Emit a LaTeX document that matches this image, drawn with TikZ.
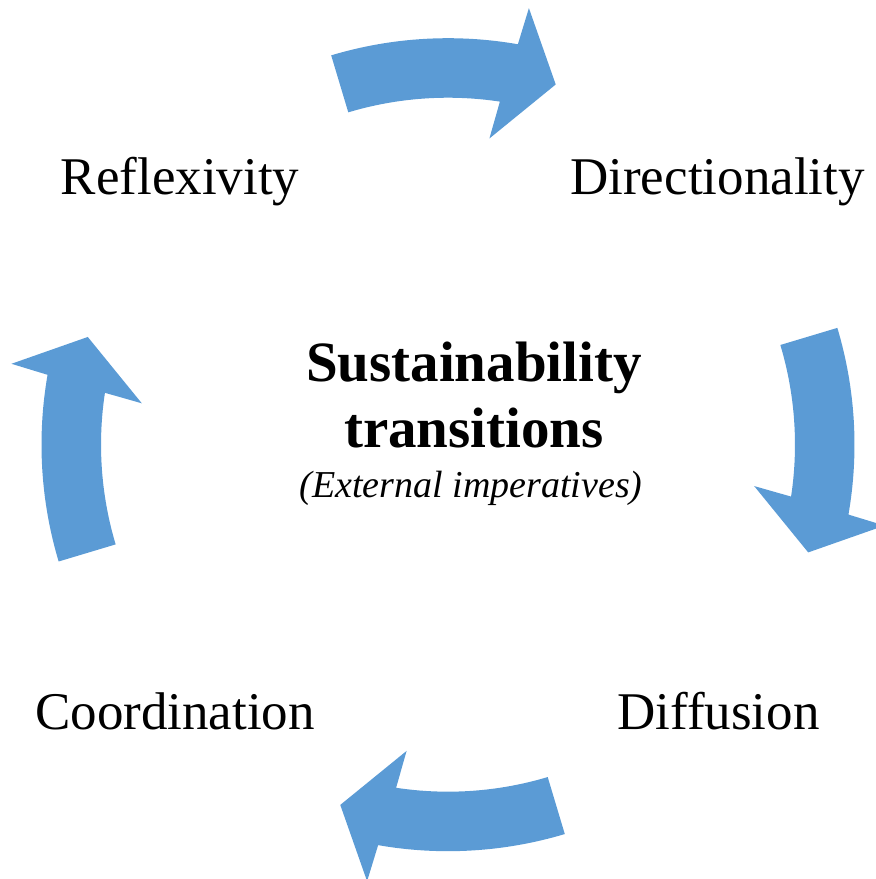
\documentclass[tikz,border=0pt]{standalone}
\usepackage{fontspec}
\setmainfont{Liberation Serif}
\definecolor{cycleblue}{HTML}{5B9BD5}
\begin{document}
\begin{tikzpicture}[x=1pt,y=1pt,
  cyclearrow/.style={fill=cycleblue, draw=none},
  phase/.style={inner sep=0pt, anchor=base, font=\fontsize{53}{60}\selectfont},
  titlebold/.style={inner sep=0pt, anchor=base, font=\fontsize{57}{66}\selectfont\bfseries},
  subtitle/.style={inner sep=0pt, anchor=base, font=\fontsize{38}{44}\selectfont\itshape}]
\useasboundingbox (0,0) rectangle (876,879);
\clip (0,0) rectangle (876,879);
\coordinate (c) at (448,434.3);
\begin{scope}[shift={(c)}]
\foreach \a in {90,0,-90,180} {
  \fill[cyclearrow] ({\a+16.7}:406.5pt)
    arc[start angle={\a+16.7}, end angle={\a-9.9}, radius=406.5pt]
    -- ({\a-10.5}:444pt) -- ({\a-16.65}:376pt) -- ({\a-7.7}:309pt)
    -- ({\a-8.6}:347pt)
    arc[start angle={\a-8.6}, end angle={\a+16.7}, radius=347pt]
    -- cycle;
}
\end{scope}
\node[phase] (reflex) at (180,684.7) {Reflexivity};
\node[phase] (direct) at (717.5,684.7) {Directionality};
\node[phase] (coord) at (175,149) {Coordination};
\node[phase] (diff) at (718.5,149) {Diffusion};
\node[titlebold] (sust) at (474,497) {Sustainability};
\node[titlebold] (trans) at (474,431) {transitions};
\node[subtitle] (ext) at (471,381) {(External imperatives)};
\end{tikzpicture}
\end{document}
